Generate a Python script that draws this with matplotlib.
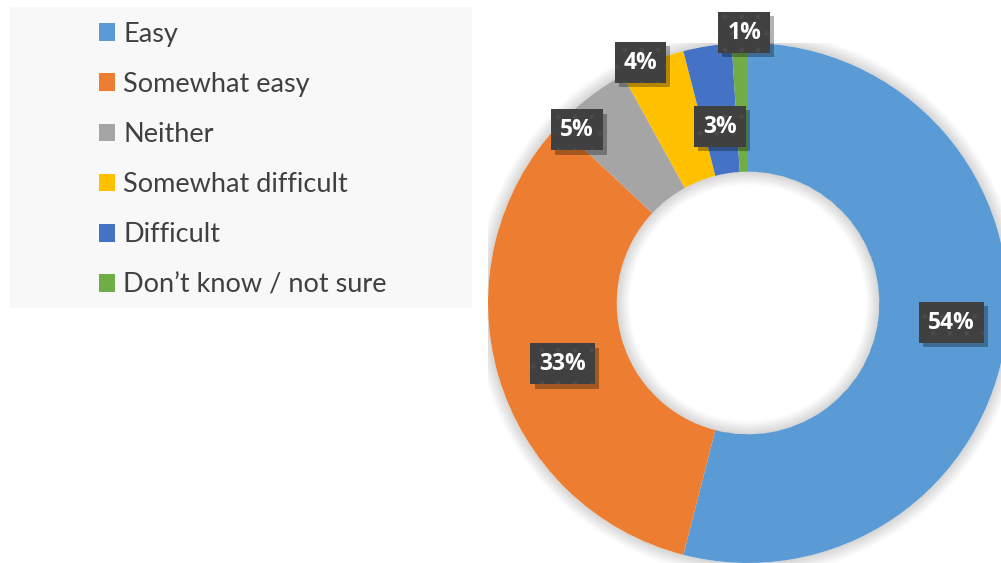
import numpy as np
import matplotlib.pyplot as plt
import matplotlib.patheffects as pe
from matplotlib.patches import Rectangle, Wedge

categories = ["Easy", "Somewhat easy", "Neither", "Somewhat difficult",
              "Difficult", "Don\u2019t know / not sure"]
shares = [54, 33, 5, 4, 3, 1]
colors = ["#5b9bd5", "#ed7d31", "#a5a5a5", "#ffc000", "#4472c4", "#70ad47"]

# label placement (radius in pie units, angle nudge in degrees)
label_r = [0.786, 0.75, 0.937, 1.013, 0.687, 1.04]
label_nudge = [-1.7, -2.0, -6.9, -2.5, 0, 1.0]

W, H = 1001, 563
fig = plt.figure(figsize=(W / 100, H / 100), dpi=100)
fig.patch.set_facecolor("white")

# legend panel
fig.patches.append(Rectangle((10 / W, 1 - 308 / H), 462 / W, 301 / H,
                             transform=fig.transFigure, facecolor="#f8f8f8",
                             edgecolor="none", zorder=0))

R = 260
cx, cy = 748, H - 303
ax = fig.add_axes([(cx - R) / W, (cy - R) / H, 2 * R / W, 2 * R / H])

# soft shadow around the ring
for i in range(10):
    ax.add_patch(Wedge((0, 0), 1 + 0.005 * (i + 1), 0, 360, width=0.005 * (i + 1),
                       color="black", alpha=0.015, zorder=0, lw=0))

wedges, _ = ax.pie(shares, colors=colors, startangle=90, counterclock=False,
                   radius=1, wedgeprops=dict(width=0.495, edgecolor="none"))

# soft shadow inside the hole
for i in range(10):
    ax.add_patch(Wedge((0, 0), 0.505, 0, 360, width=0.005 * (i + 1),
                       color="black", alpha=0.015, zorder=3, lw=0))

ax.set_xlim(-1, 1)
ax.set_ylim(-1, 1)
ax.set_aspect("equal")
ax.axis("off")

plt.rcParams["hatch.linewidth"] = 1.0
renderer = fig.canvas.get_renderer()
inv = ax.transData.inverted()
total = sum(shares)
start = 0.0
for k, v in enumerate(shares):
    mid = start + v / total * 360 / 2
    start += v / total * 360
    ang = np.deg2rad(90 - mid - label_nudge[k])
    x = label_r[k] * np.cos(ang)
    y = label_r[k] * np.sin(ang)
    t = ax.text(x, y, f"{v}%", ha="center", va="center", color="white",
                fontsize=16.5, fontweight="bold", family=["Open Sans", "DejaVu Sans"],
                zorder=7, clip_on=False)
    bb = t.get_window_extent(renderer)
    px, py = ax.transData.transform((x, y))
    bw, bh = bb.width + 18, 41
    (x0, y0), (x1, y1) = inv.transform([(px - bw / 2, py - bh / 2),
                                        (px + bw / 2, py + bh / 2)])
    shadow = Rectangle((x0, y0), x1 - x0, y1 - y0, facecolor="#404040",
                       edgecolor="none", lw=0, zorder=5, clip_on=False)
    shadow.set_path_effects([pe.SimplePatchShadow(offset=(3, -3),
                                                  shadow_rgbFace="black", alpha=0.3),
                             pe.Normal()])
    ax.add_patch(shadow)
    dots = Rectangle((x0, y0), x1 - x0, y1 - y0, facecolor="none",
                     edgecolor="#4a4a4a", hatch=".", lw=0, zorder=6, clip_on=False)
    ax.add_patch(dots)

leg = fig.legend(wedges, categories, loc="upper left",
                 bbox_to_anchor=(85 / W, 1 - 8 / H), frameon=False,
                 prop=dict(family=["Lato", "DejaVu Sans"], size=19.5),
                 labelcolor="#404040", handlelength=0.62, handleheight=0.62,
                 handletextpad=0.3, labelspacing=0.93, borderpad=0)

fig.savefig("out.png", dpi=100)
